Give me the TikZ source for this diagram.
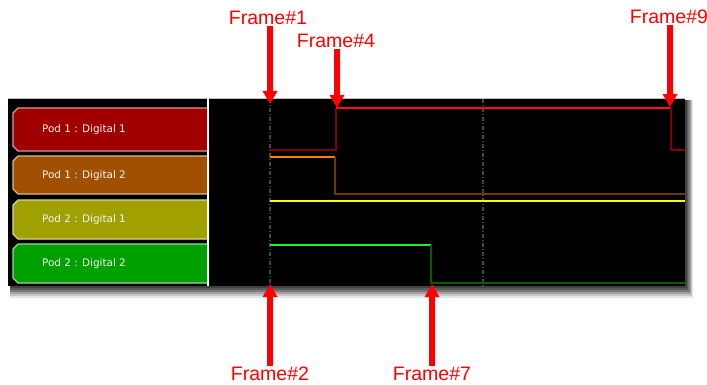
\documentclass[tikz,border=0pt]{standalone}
\usepackage{fontspec}
\setmainfont{Liberation Sans}
\newfontfamily\labfont{DejaVu Sans}
\usetikzlibrary{arrows.meta}
\definecolor{labred}{HTML}{A00000}
\definecolor{laborange}{HTML}{A05000}
\definecolor{labolive}{HTML}{A0A000}
\definecolor{labgreen}{HTML}{00A000}
\definecolor{sigredhi}{HTML}{FF1010}
\definecolor{sigredlo}{HTML}{800000}
\definecolor{sigorhi}{HTML}{FF8000}
\definecolor{sigorlo}{HTML}{703800}
\definecolor{sigyel}{HTML}{FFFF00}
\definecolor{siggrhi}{HTML}{20F020}
\definecolor{siggrlo}{HTML}{006000}
\definecolor{arrred}{HTML}{FF0000}
\definecolor{gridgray}{HTML}{484848}
\begin{document}
\begin{tikzpicture}[x=1pt,y=-1pt,
  labbox/.style={line width=1.3pt},
  labtext/.style={anchor=west, text=white!92!gray, font=\labfont\fontsize{10.4}{12}\selectfont, inner sep=0pt},
  frametext/.style={text=arrred, font=\fontsize{19.5}{22}\selectfont, inner sep=1pt},
  farrow/.style={draw=arrred, line width=5.5pt, -{Triangle[width=14pt,length=13pt]}},
  sig/.style={line width=1.8pt},
  gridline/.style={draw=gridgray, line width=1.2pt, dash pattern=on 4pt off 2pt on 1pt off 2pt}]
\useasboundingbox (0,0) rectangle (707,385);
% shadow
\fill[black!10] (10,100) rectangle (693,298);
\fill[black!22] (10,100) rectangle (692,296);
\fill[black!36] (10,100) rectangle (691,294);
\fill[black!52] (10,100) rectangle (690,292);
\fill[black!64] (10,100) rectangle (688,290);
\fill[black!74] (10,100) rectangle (687,288);
% panel
\fill[black] (8,98) rectangle (685,286);
\draw[gray!50, line width=0.6pt] (8,98) -- (685,98);
% labels
\foreach \c/\ya/\yb in {labred/108/151, laborange/156/194, labolive/200/239, labgreen/244/283}{
  \draw[labbox, fill=\c, draw=\c!40!white]
    (209,\ya) -- (18,\ya) -- (13,\ya+5) -- (13,\yb-5) -- (18,\yb) -- (209,\yb);
}
\node[labtext] (t1) at (42,130) {Pod 1 : Digital 1};
\node[labtext] (t2) at (42,176) {Pod 1 : Digital 2};
\node[labtext] (t3) at (42,220) {Pod 2 : Digital 1};
\node[labtext] (t4) at (42,264) {Pod 2 : Digital 2};
\fill[white] (206.5,98) rectangle (209,286);
% grid lines
\draw[gridline] (270,99) -- (270,286);
\draw[gridline] (483,99) -- (483,286);
% signals
\draw[sig, sigredlo] (270,150) -- (336,150) -- (336,108);
\draw[sig, sigredhi] (336,108) -- (671,108);
\draw[sig, sigredlo] (671,108) -- (671,150) -- (685,150);
\draw[sig, sigorhi] (270,157) -- (335,157);
\draw[sig, sigorlo] (335,157) -- (335,194) -- (685,194);
\draw[sig, sigyel] (270,201) -- (685,201);
\draw[sig, siggrhi] (270,245) -- (431,245);
\draw[sig, siggrlo] (431,245) -- (431,283) -- (685,283);
% frame labels and arrows
\node[frametext] (f1) at (268,18) {Frame\#1};
\node[frametext] (f4) at (336,41) {Frame\#4};
\node[frametext] (f9) at (669,17) {Frame\#9};
\node[frametext] (f2) at (270,374) {Frame\#2};
\node[frametext] (f7) at (432,374) {Frame\#7};
\coordinate (p1) at (270,104);
\coordinate (p4) at (337,108);
\coordinate (p9) at (670,107);
\coordinate (p2) at (270,284);
\coordinate (p7) at (432,284);
\draw[farrow] (f1.south -| p1) -- (p1);
\draw[farrow] (f4.south -| p4) -- (p4);
\draw[farrow] (f9.south -| p9) -- (p9);
\draw[farrow] (f2.north -| p2) -- (p2);
\draw[farrow] (f7.north -| p7) -- (p7);
\end{tikzpicture}
\end{document}
